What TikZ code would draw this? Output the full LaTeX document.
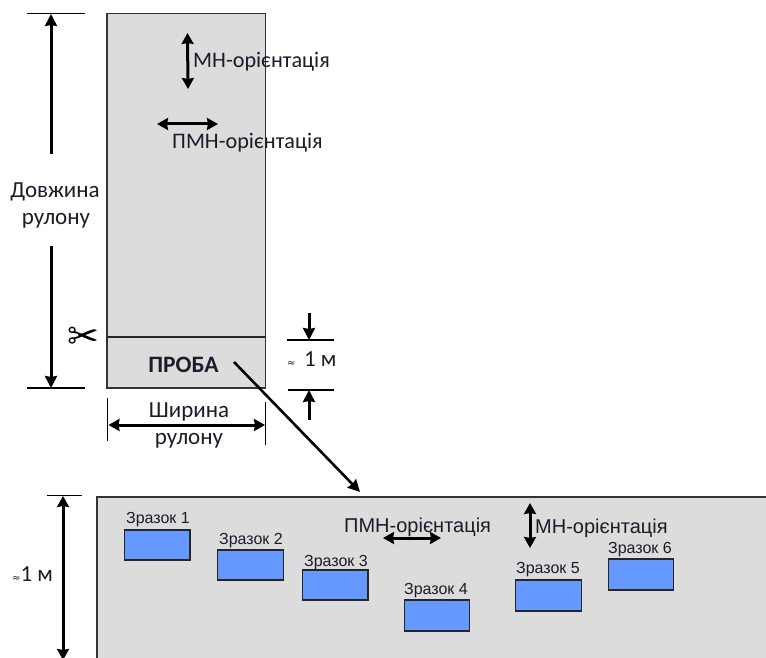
\documentclass[tikz,border=0pt]{standalone}
\usepackage{fontspec}
\setmainfont{Carlito}
\newfontfamily\arialf{Liberation Sans}
\newfontfamily\symf{DejaVu Sans}
\usetikzlibrary{arrows.meta}
\definecolor{sheet}{HTML}{DCDCDC}
\definecolor{samp}{HTML}{6699FF}
\definecolor{ink}{HTML}{1C1C2A}
\tikzset{
  x=1pt,y=-1pt,
  sheetbox/.style={draw=black!80,line width=1.3pt,fill=sheet,inner sep=0pt,outer sep=0pt},
  sampbox/.style={draw=black!85,line width=1.3pt,fill=samp,inner sep=0pt,outer sep=0pt,minimum width=65.5pt,minimum height=30pt},
  dimline/.style={line width=1.2pt,black},
  bigarrow/.style={line width=3pt,black,-{Stealth[length=12pt,width=12pt,inset=1pt]}},
  bothways/.style={line width=3pt,black,{Stealth[length=11pt,width=12pt,inset=1pt]}-{Stealth[length=11pt,width=12pt,inset=1pt]}},
  lab/.style={inner sep=0pt,text=ink,font=\fontsize{23}{23}\selectfont},
  ori/.style={inner sep=0pt,text=ink,font=\fontsize{22.2}{22}\selectfont},
  oriar/.style={inner sep=0pt,text=ink,font=\arialf\fontsize{20}{20}\selectfont},
  samplab/.style={inner sep=0pt,text=ink,font=\arialf\fontsize{16}{16}\selectfont},
}
\begin{document}
\begin{tikzpicture}
\clip (0,0) rectangle (766,658);
\fill[white] (0,0) rectangle (766,658);
% roll
\node[sheetbox,minimum width=158.5pt,minimum height=374.5pt] (roll) at (186.25,200.75) {};
\coordinate (cutL) at (107,337); \coordinate (cutR) at (265.5,337);
\draw[line width=1.2pt,black!85] (cutL) -- (cutR);
\node[inner sep=0pt,font=\fontsize{23.5}{23}\selectfont\bfseries,text=ink] (proba) at (183.5,365) {ПРОБА};
\node[inner sep=0pt,font=\symf\fontsize{38}{38}\selectfont] (sciss) at (83,338) {✂};
% roll length
\coordinate (lenT1) at (27,13.5); \coordinate (lenT2) at (85,13.5);
\coordinate (lenB1) at (27,388); \coordinate (lenB2) at (85,388);
\draw[dimline] (lenT1) -- (lenT2);
\draw[dimline] (lenB1) -- (lenB2);
\node[lab] (lenA) at (55,192) {Довжина};
\node[lab] (lenB) at (56,221) {рулону};
\coordinate (lenS1) at (51,154); \coordinate (lenE1) at (51,14);
\coordinate (lenS2) at (51,246); \coordinate (lenE2) at (51,388);
\draw[bigarrow] (lenS1) -- (lenE1);
\draw[bigarrow] (lenS2) -- (lenE2);
% orientations in roll
\coordinate (mnA) at (187.5,33); \coordinate (mnB) at (188,89);
\draw[bothways] (mnA) -- (mnB);
\node[ori,anchor=west] (mnT) at (193,62) {МН-орієнтація};
\coordinate (pmA) at (157,124); \coordinate (pmB) at (218,124);
\draw[bothways] (pmA) -- (pmB);
\node[ori,anchor=west] (pmT) at (172,143) {ПМН-орієнтація};
% width
\coordinate (wL1) at (107.5,398); \coordinate (wL2) at (107.5,441);
\coordinate (wR1) at (265.5,402); \coordinate (wR2) at (265.5,445);
\draw[dimline] (wL1) -- (wL2);
\draw[dimline] (wR1) -- (wR2);
\coordinate (wA) at (108.5,425); \coordinate (wB) at (265,425);
\draw[bothways] (wA) -- (wB);
\node[lab] (wT1) at (189,412) {Ширина};
\node[lab] (wT2) at (189,441) {рулону};
% 1 m
\coordinate (mT1) at (287,340); \coordinate (mT2) at (334,340);
\coordinate (mB1) at (288,390); \coordinate (mB2) at (334,390);
\draw[dimline] (mT1) -- (mT2);
\draw[dimline] (mB1) -- (mB2);
\coordinate (mS1) at (309,313); \coordinate (mE1) at (309,340);
\coordinate (mS2) at (309,420); \coordinate (mE2) at (309,390);
\draw[bigarrow] (mS1) -- (mE1);
\draw[bigarrow] (mS2) -- (mE2);
\node[lab,anchor=west] (mT) at (287,359) {{\symf\fontsize{10}{10}\selectfont ≈}\hspace{8.5pt}1 м};
% panel
\node[sheetbox,minimum width=700pt,minimum height=200pt,anchor=north west] (panel) at (97,497) {};
\coordinate (pT1) at (47,495.5); \coordinate (pT2) at (82,495.5);
\draw[dimline] (pT1) -- (pT2);
\coordinate (pA) at (63,496); \coordinate (pB) at (63,660);
\draw[bothways] (pA) -- (pB);
\node[lab,anchor=west] (pL) at (12,574) {{\symf\fontsize{10}{10}\selectfont ≈}1 м};
% arrow to panel
\coordinate (zoomEnd) at (360,492);
\draw[line width=2.6pt,black,-{Stealth[length=12pt,width=12pt,inset=1pt]}] (234,362) -- (zoomEnd);
% panel orientations
\node[oriar,anchor=west] (pmT2) at (344,527) {ПМН-орієнтація};
\coordinate (pmC) at (383,538); \coordinate (pmD) at (441,538);
\draw[bothways] (pmC) -- (pmD);
\coordinate (mnC) at (530,503); \coordinate (mnD) at (530,548);
\draw[bothways] (mnC) -- (mnD);
\node[oriar,anchor=west] (mnT2) at (535,528) {МН-орієнтація};
% samples
\node[sampbox] (s1) at (157.25,545) {};
\node[sampbox] (s2) at (250.5,565) {};
\node[sampbox] (s3) at (335.25,585) {};
\node[sampbox,minimum height=31pt] (s4) at (437,615.5) {};
\node[sampbox,minimum height=31pt] (s5) at (548.5,595.5) {};
\node[sampbox,minimum height=31pt] (s6) at (641,574.5) {};
\node[samplab] (l1) at (158,520) {Зразок 1};
\node[samplab] (l2) at (251,541) {Зразок 2};
\node[samplab] (l3) at (336,562.5) {Зразок 3};
\node[samplab] (l4) at (436,590.5) {Зразок 4};
\node[samplab] (l5) at (548,570) {Зразок 5};
\node[samplab] (l6) at (640,550) {Зразок 6};
\end{tikzpicture}
\end{document}
